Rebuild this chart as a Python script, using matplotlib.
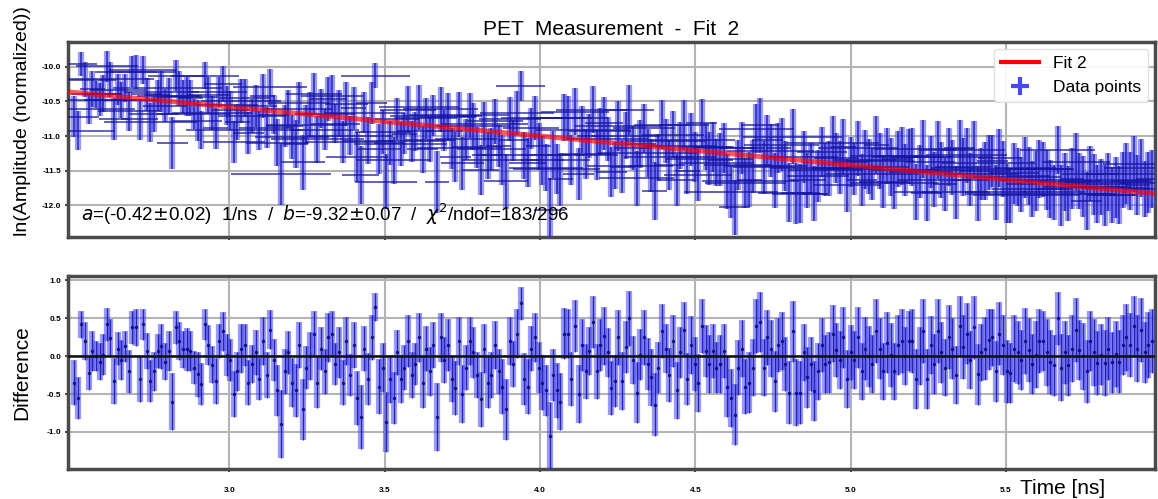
import matplotlib
matplotlib.use("Agg")
import matplotlib.pyplot as plt
import numpy as np
from matplotlib.lines import Line2D

plt.rcParams['font.family'] = ['Liberation Sans', 'DejaVu Sans']
plt.rcParams['axes.unicode_minus'] = False

# fit parameters (ln A = a*t + b)
a_fit = -0.42
b_fit = -9.32

# measurement times [ns], 298 samples between 2.50 and 5.97
t_first = 2.50
t_last = 5.97
n_points = 298

# residuals
diff = [
    -0.35, -0.55, 0.42, 0.20, -0.22, 0.07, 0.00, -0.07, 0.02, 0.42, 0.24, -0.33, 0.10, -0.05, 0.13,
    -0.20, 0.38, 0.38, -0.30, 0.42, 0.07, -0.33, -0.20, 0.07, 0.13, -0.07, 0.07, -0.60, 0.38, 0.20,
    0.09, 0.09, 0.07, -0.15, -0.24, -0.37, 0.42, 0.15, -0.11, -0.33, 0.20, 0.33, 0.02,
    -0.05, -0.50, -0.20, 0.10, 0.15, -0.35, -0.10, 0.05, -0.30, 0.20, -0.25, 0.35, -0.05, -0.45, -0.90,
    -0.20, 0.05, -0.35, -0.45, 0.15, -0.70, -0.15, 0.00, 0.30, -0.35, 0.10, -0.20, 0.25, 0.30, -0.10,
    0.05, -0.35, 0.20, -0.25, 0.15, -0.55, -0.80, 0.10, -0.30, 0.25, 0.65, -0.40, -0.15,
    -0.87, -0.30, -0.55, 0.05, -0.30, -0.15, 0.20, -0.25, -0.10, 0.25, -0.35, 0.10, -0.20, 0.15, -0.80,
    0.25, -0.05, 0.15, -0.30, -0.42, 0.20, -0.50, -0.15, 0.20, 0.05, -0.25, -0.57, 0.10, -0.35, -0.25,
    0.15, -0.20, -0.40, -0.70, 0.20, -0.10, 0.30, 0.70, -0.30, -0.40, 0.10, 0.25, -0.15,
    -0.35, -0.45, -1.05, -0.25, -0.45, -0.60, 0.30, 0.30, -0.30, 0.40, -0.50, 0.15, -0.20, 0.07, 0.45,
    -0.20, 0.15, 0.27, 0.05, -0.42, -0.33, 0.25, -0.33, 0.12, 0.50, -0.05, -0.48, 0.02, 0.25, -0.10,
    -0.28, -0.64, -0.15, 0.33, 0.10, -0.25, 0.20, -0.45, 0.05, 0.35, -0.30, 0.15, -0.10,
    -0.35, 0.40, 0.07, -0.10, 0.07, -0.15, -0.10, 0.07, -0.40, -0.55, -0.77, -0.15, 0.10, -0.40, -0.35,
    -0.15, 0.40, 0.45, -0.15, 0.25, 0.10, -0.33, 0.15, 0.20, -0.10, -0.48, 0.33, -0.48, -0.48, 0.05,
    -0.28, -0.10, -0.46, -0.20, 0.15, -0.10, -0.08, 0.30, 0.08, -0.05, 0.25, -0.30, 0.05,
    -0.05, 0.25, -0.20, 0.10, 0.00, -0.10, 0.33, 0.10, -0.20, 0.18, 0.02, -0.20, 0.15, 0.20, 0.00,
    0.20, 0.20, -0.30, 0.00, 0.33, -0.30, 0.15, -0.10, 0.33, 0.05, -0.15, 0.25, 0.10, -0.25, 0.40,
    0.12, 0.30, -0.05, 0.38, -0.24, 0.05, 0.10, 0.22, 0.25, -0.20, 0.30, 0.15,
    -0.20, -0.22, 0.10, 0.05, -0.05, 0.20, 0.08, -0.10, 0.02, 0.20, 0.20, 0.05, -0.08, -0.12, 0.50,
    -0.15, 0.05, -0.12, 0.10, 0.35, 0.08, 0.00, -0.20, 0.20, 0.05, -0.09, 0.02, -0.09, 0.10, -0.08,
    0.03, -0.07, 0.15, 0.25, 0.15, 0.40, 0.10, 0.35, 0.05, 0.15, 0.20,
]

# vertical uncertainties
yerr = [
    0.30, 0.28, 0.18, 0.25, 0.22, 0.26, 0.20, 0.24, 0.27, 0.22, 0.25, 0.30, 0.22, 0.26, 0.20,
    0.28, 0.22, 0.25, 0.30, 0.20, 0.24, 0.28, 0.26, 0.22, 0.30, 0.24, 0.26, 0.38, 0.22, 0.25,
    0.24, 0.28, 0.26, 0.22, 0.30, 0.28, 0.20, 0.26, 0.24, 0.30, 0.22, 0.26, 0.28,
    0.28, 0.30, 0.26, 0.32, 0.28, 0.30, 0.25, 0.30, 0.28, 0.32, 0.30, 0.26, 0.28, 0.34, 0.45,
    0.30, 0.28, 0.32, 0.35, 0.30, 0.40, 0.28, 0.32, 0.30, 0.34, 0.28, 0.30, 0.32, 0.30, 0.28,
    0.34, 0.30, 0.32, 0.28, 0.30, 0.36, 0.42, 0.30, 0.34, 0.30, 0.18, 0.36, 0.32,
    0.40, 0.32, 0.34, 0.30, 0.32, 0.30, 0.34, 0.30, 0.28, 0.32, 0.34, 0.30, 0.32, 0.30, 0.45,
    0.32, 0.30, 0.34, 0.30, 0.36, 0.32, 0.38, 0.30, 0.32, 0.34, 0.30, 0.36, 0.32, 0.34, 0.30,
    0.32, 0.30, 0.36, 0.40, 0.32, 0.30, 0.32, 0.22, 0.34, 0.36, 0.30, 0.32, 0.34,
    0.36, 0.34, 0.45, 0.34, 0.36, 0.38, 0.34, 0.32, 0.36, 0.34, 0.38, 0.34, 0.36, 0.32, 0.34,
    0.36, 0.34, 0.38, 0.32, 0.36, 0.34, 0.36, 0.38, 0.34, 0.36, 0.32, 0.40, 0.34, 0.36, 0.34,
    0.38, 0.42, 0.34, 0.36, 0.32, 0.36, 0.34, 0.38, 0.34, 0.36, 0.34, 0.38, 0.36,
    0.38, 0.36, 0.34, 0.38, 0.36, 0.34, 0.38, 0.36, 0.40, 0.38, 0.40, 0.36, 0.38, 0.36, 0.40,
    0.38, 0.36, 0.40, 0.38, 0.36, 0.38, 0.40, 0.36, 0.38, 0.36, 0.42, 0.40, 0.44, 0.42, 0.38,
    0.40, 0.36, 0.40, 0.38, 0.36, 0.38, 0.40, 0.38, 0.36, 0.38, 0.40, 0.38, 0.36,
    0.38, 0.40, 0.38, 0.42, 0.40, 0.38, 0.42, 0.40, 0.38, 0.40, 0.42, 0.38, 0.40, 0.42, 0.38,
    0.40, 0.42, 0.40, 0.38, 0.42, 0.40, 0.38, 0.40, 0.42, 0.40, 0.38, 0.42, 0.40, 0.38, 0.40,
    0.42, 0.40, 0.38, 0.42, 0.40, 0.38, 0.42, 0.40, 0.38, 0.40, 0.42, 0.40,
    0.42, 0.40, 0.44, 0.42, 0.40, 0.44, 0.42, 0.40, 0.44, 0.42, 0.40, 0.44, 0.42, 0.40, 0.35,
    0.44, 0.42, 0.40, 0.44, 0.42, 0.40, 0.44, 0.42, 0.40, 0.44, 0.42, 0.40, 0.44, 0.42, 0.40,
    0.44, 0.42, 0.40, 0.44, 0.42, 0.40, 0.44, 0.42, 0.40, 0.44, 0.42,
]

# horizontal uncertainties [ns]
xerr = [
    0.08, 0.12, 0.05, 0.10, 0.15, 0.04, 0.08, 0.12, 0.06, 0.10, 0.14, 0.05, 0.09, 0.12, 0.04,
    0.10, 0.08, 0.13, 0.06, 0.11, 0.05, 0.15, 0.08, 0.04, 0.12, 0.07, 0.10, 0.05, 0.09, 0.14,
    0.06, 0.10, 0.04, 0.12, 0.08, 0.05, 0.11, 0.07, 0.13, 0.04, 0.09, 0.06, 0.10,
    0.06, 0.10, 0.04, 0.13, 0.08, 0.05, 0.11, 0.07, 0.14, 0.04, 0.09, 0.12, 0.05, 0.10, 0.16,
    0.06, 0.08, 0.12, 0.04, 0.10, 0.07, 0.13, 0.05, 0.09, 0.15, 0.04, 0.11, 0.06, 0.10, 0.08,
    0.05, 0.12, 0.07, 0.14, 0.04, 0.10, 0.06, 0.13, 0.08, 0.05, 0.11, 0.07, 0.09,
    0.10, 0.05, 0.12, 0.07, 0.15, 0.04, 0.09, 0.11, 0.06, 0.13, 0.05, 0.10, 0.08, 0.14, 0.04,
    0.12, 0.06, 0.09, 0.11, 0.05, 0.16, 0.07, 0.10, 0.04, 0.12, 0.08, 0.06, 0.14, 0.05, 0.11,
    0.09, 0.04, 0.13, 0.07, 0.10, 0.05, 0.12, 0.08, 0.15, 0.06, 0.09, 0.11, 0.04,
    0.07, 0.12, 0.05, 0.10, 0.14, 0.04, 0.09, 0.13, 0.06, 0.11, 0.05, 0.15, 0.08, 0.04, 0.12,
    0.07, 0.10, 0.06, 0.13, 0.05, 0.09, 0.14, 0.04, 0.11, 0.08, 0.06, 0.12, 0.05, 0.10, 0.16,
    0.07, 0.04, 0.11, 0.09, 0.13, 0.05, 0.10, 0.06, 0.12, 0.08, 0.04, 0.14, 0.07,
    0.11, 0.05, 0.09, 0.14, 0.06, 0.12, 0.04, 0.10, 0.08, 0.15, 0.05, 0.11, 0.07, 0.13, 0.04,
    0.09, 0.12, 0.06, 0.10, 0.05, 0.14, 0.08, 0.04, 0.12, 0.07, 0.10, 0.16, 0.05, 0.09, 0.11,
    0.06, 0.13, 0.04, 0.10, 0.08, 0.12, 0.05, 0.15, 0.07, 0.09, 0.04, 0.11, 0.06,
    0.09, 0.13, 0.05, 0.10, 0.07, 0.15, 0.04, 0.11, 0.08, 0.12, 0.06, 0.14, 0.05, 0.09, 0.11,
    0.04, 0.13, 0.07, 0.10, 0.16, 0.05, 0.08, 0.12, 0.06, 0.10, 0.04, 0.14, 0.07, 0.11, 0.05,
    0.09, 0.13, 0.06, 0.10, 0.04, 0.12, 0.08, 0.15, 0.05, 0.10, 0.07, 0.11,
    0.06, 0.12, 0.08, 0.14, 0.05, 0.10, 0.07, 0.13, 0.04, 0.11, 0.09, 0.15, 0.05, 0.10, 0.12,
    0.06, 0.08, 0.14, 0.04, 0.11, 0.07, 0.13, 0.05, 0.09, 0.12, 0.06, 0.10, 0.04, 0.14, 0.08,
    0.11, 0.05, 0.09, 0.13, 0.06, 0.10, 0.04, 0.12, 0.07, 0.09, 0.05,
]

t = np.linspace(t_first, t_last, n_points)
diff = np.array(diff)
yerr = np.array(yerr)
xerr = np.array(xerr)
fit = a_fit * t + b_fit
ln_amp = fit + diff

light_blue = '#4848f8'
dark_blue = '#1414a0'
frame_col = '#4a4a4a'
grid_col = '#b4b4b4'

fig = plt.figure(figsize=(11.58, 4.99), dpi=100)
ax1 = fig.add_axes([0.0587, 0.525, 0.9387, 0.391])
ax2 = fig.add_axes([0.0587, 0.060, 0.9387, 0.387])

# upper panel: data + fit
ax1.errorbar(t, ln_amp, yerr=yerr, fmt='none', ecolor=light_blue, elinewidth=4.5, alpha=0.55, zorder=3)
ax1.errorbar(t, ln_amp, xerr=xerr, yerr=yerr, fmt='none', ecolor=dark_blue, elinewidth=1.1, alpha=0.85, zorder=4)
t_line = np.array([t_first - 0.05, t_last + 0.05])
ax1.plot(t_line, a_fit * t_line + b_fit, color='red', lw=3.5, alpha=0.65, zorder=5)

ax1.set_xlim(2.48, 5.98)
ax1.set_ylim(-12.46, -9.64)
ax1.set_yticks([-12.0, -11.5, -11.0, -10.5, -10.0])
ax1.set_yticklabels(['-12.0', '-11.5', '-11.0', '-10.5', '-10.0'])
ax1.set_xticks([3.0, 3.5, 4.0, 4.5, 5.0, 5.5])
ax1.set_xticklabels([])
ax1.set_title('PET  Measurement  -  Fit  2', fontsize=15, pad=5)
ax1.set_ylabel('ln(Amplitude (normalized))', fontsize=14)
ax1.yaxis.set_label_coords(-0.034, 0.595)

ax1.text(0.012, 0.05,
         r'$a$=(-0.42$\pm$0.02)  1/ns  /  $b$=-9.32$\pm$0.07  /  $\chi^2$/ndof=183/296',
         transform=ax1.transAxes, fontsize=13.5, ha='left', va='bottom', zorder=6)

handles = [Line2D([], [], color='red', lw=3),
           Line2D([], [], color=light_blue, marker='+', ls='none', ms=13, mew=3)]
leg = ax1.legend(handles, ['Fit 2', 'Data points'], loc='upper right', fontsize=12.5,
                 framealpha=0.9, edgecolor='#dddddd', borderaxespad=0.4, handlelength=2.2)
leg.set_zorder(10)

# lower panel: residuals
ax2.errorbar(t, diff, yerr=yerr, fmt='none', ecolor=light_blue, elinewidth=4.5, alpha=0.55, zorder=3)
ax2.errorbar(t, diff, yerr=yerr, fmt='.', color='#0c0c80', ms=3, ecolor=dark_blue,
             elinewidth=1.0, alpha=0.85, zorder=4)
ax2.axhline(0.0, color='#111111', lw=1.8, zorder=5)

ax2.set_xlim(2.48, 5.98)
ax2.set_ylim(-1.49, 1.06)
ax2.set_yticks([-1.0, -0.5, 0.0, 0.5, 1.0])
ax2.set_yticklabels(['-1.0', '-0.5', '0.0', '0.5', '1.0'])
ax2.set_xticks([3.0, 3.5, 4.0, 4.5, 5.0, 5.5])
ax2.set_xticklabels(['3.0', '3.5', '4.0', '4.5', '5.0', '5.5'])
ax2.set_ylabel('Difference', fontsize=15)
ax2.yaxis.set_label_coords(-0.034, 0.5)
fig.text(0.881, 0.022, 'Time [ns]', fontsize=15, ha='left', va='center')

for ax in (ax1, ax2):
    ax.grid(True, color=grid_col, lw=1.5, zorder=0)
    ax.set_axisbelow(True)
    for sp in ax.spines.values():
        sp.set_color(frame_col)
        sp.set_linewidth(2.5)
    ax.tick_params(labelsize=6, length=2, width=1.5, color=frame_col, pad=3)
    for lab in ax.get_xticklabels() + ax.get_yticklabels():
        lab.set_fontweight('bold')
ax2.tick_params(axis='x', pad=11)

fig.savefig('out.png', dpi=100)
